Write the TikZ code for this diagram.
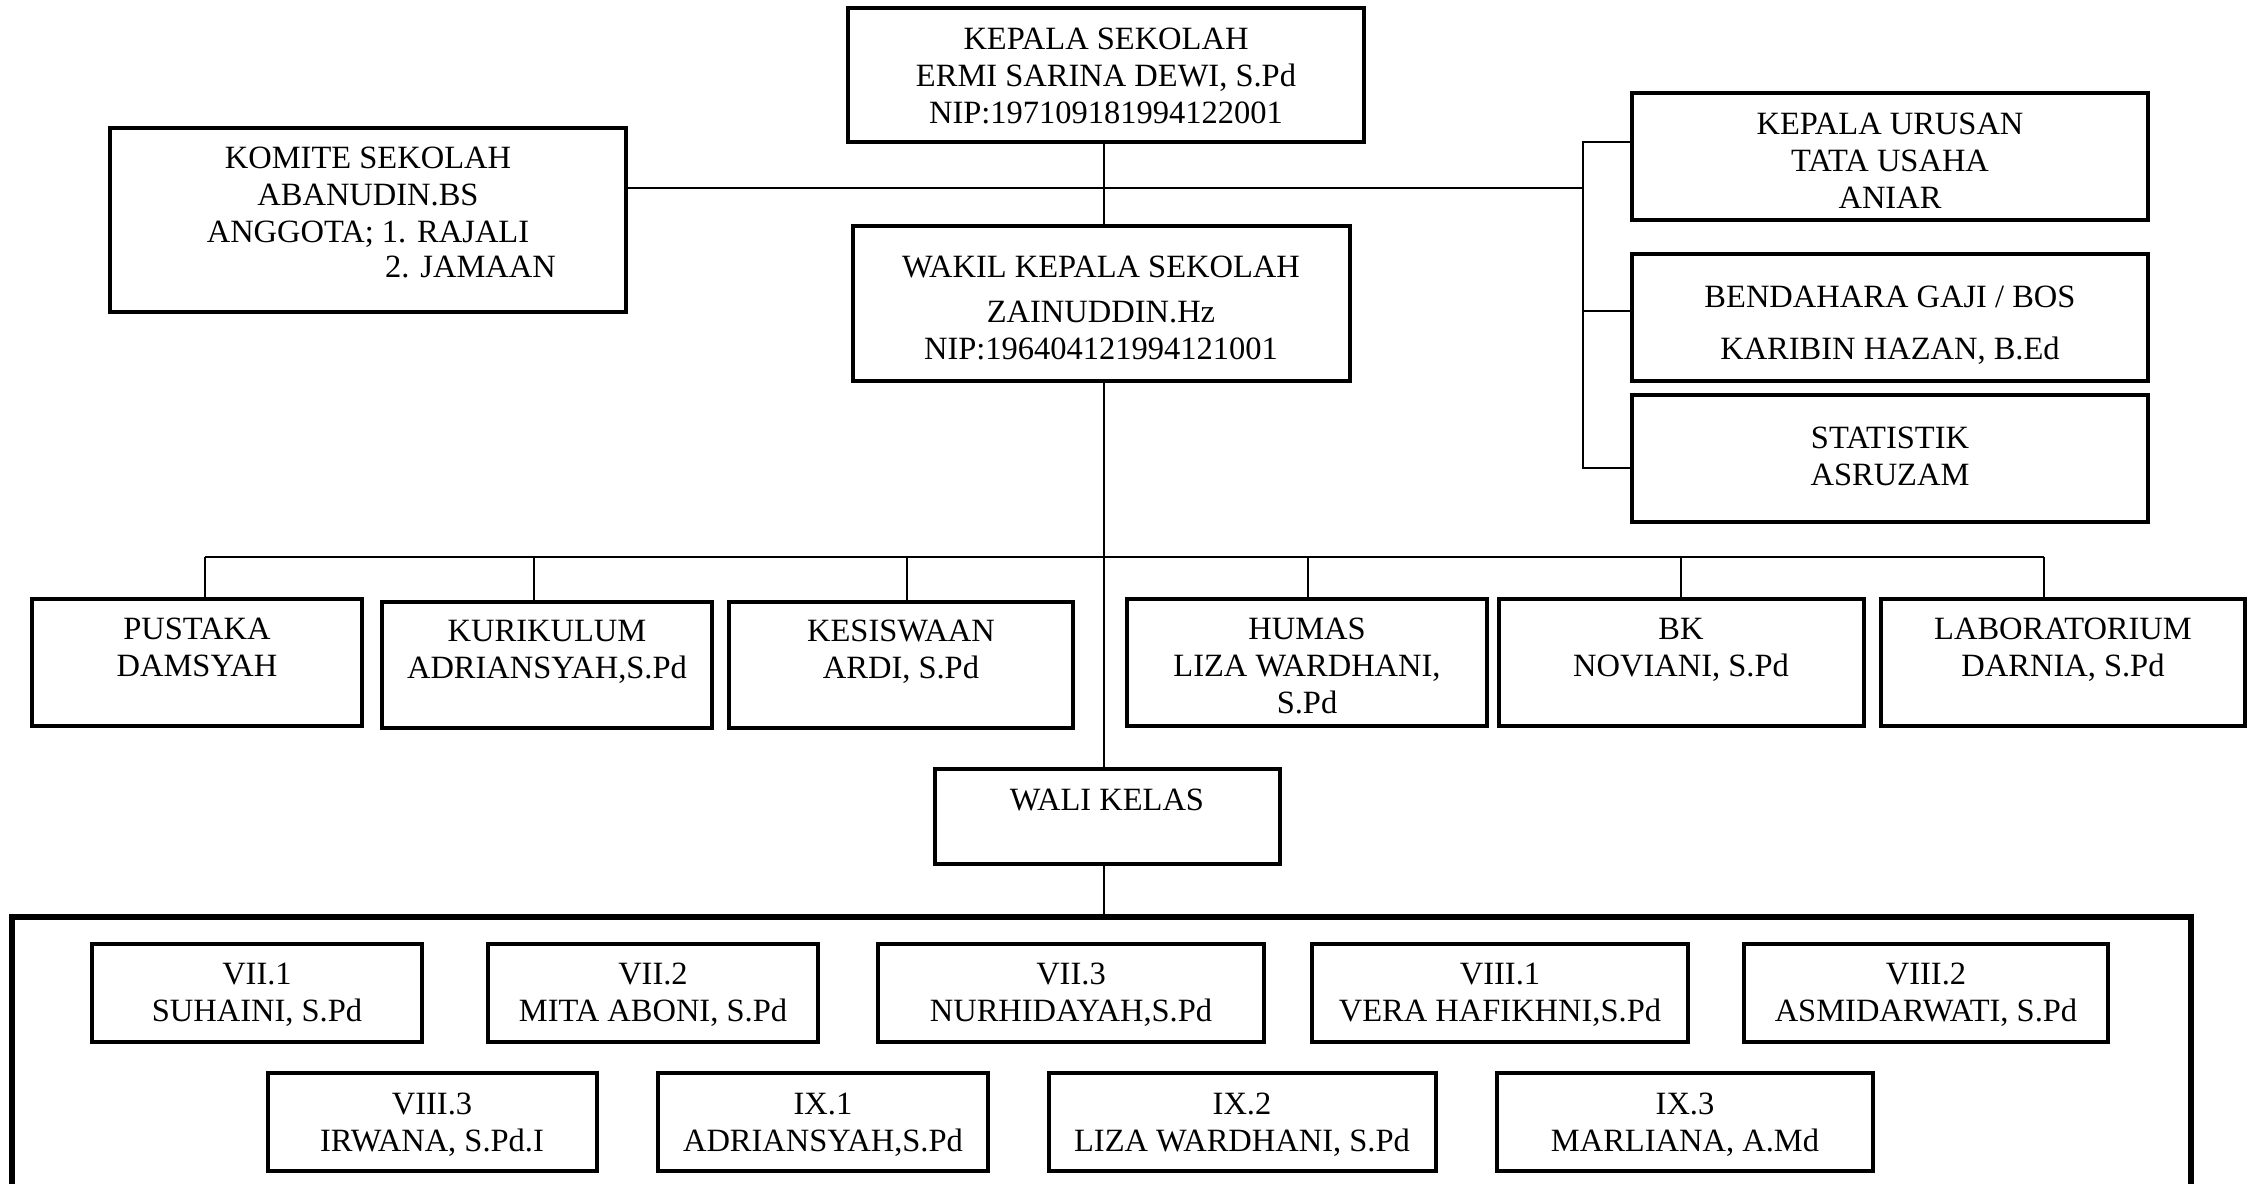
\documentclass[tikz,border=0pt]{standalone}
\usepackage{fontspec}
\setmainfont{Liberation Serif}
\usetikzlibrary{fit}
\newcommand\obox[5]{\node[box, fit={(#2,#3) (#4,#5)}] (#1) {};}
\begin{document}
\begin{tikzpicture}[x=1pt,y=-1pt,
  every node/.style={font=\fontsize{32.5}{37}\selectfont},
  box/.style={draw, line width=4pt, inner sep=0pt},
  txt/.style={inner sep=0pt, align=center, anchor=north},
  conn/.style={line width=2pt},
  frameline/.style={line width=5.5pt}]
\useasboundingbox (0,0) rectangle (2253,1184);

% top boxes
\obox{kep}{848}{8}{1364}{142}
\node[txt] (kept) at (1106,28) {KEPALA SEKOLAH\\ERMI SARINA DEWI, S.Pd\\NIP:197109181994122001};
\obox{kom}{110}{128}{626}{312}
\node[txt] (komt) at (368,147) {KOMITE SEKOLAH\\ABANUDIN.BS\\ANGGOTA; 1. RAJALI};
\node[inner sep=0pt, anchor=north west] (komj) at (385,256) {2. JAMAAN};
\obox{wak}{853}{226}{1350}{381}
\node[txt] (wakt) at (1101,256) {WAKIL KEPALA SEKOLAH\\[8pt]ZAINUDDIN.Hz\\NIP:196404121994121001};
\obox{ku}{1632}{93}{2148}{220}
\node[txt] (kut) at (1890,113) {KEPALA URUSAN\\TATA USAHA\\ANIAR};
\obox{ben}{1632}{254}{2148}{381}
\node[txt] (bent) at (1890,286) {BENDAHARA GAJI / BOS\\[15pt]KARIBIN HAZAN, B.Ed};
\obox{sta}{1632}{395}{2148}{522}
\node[txt] (stat) at (1890,427) {STATISTIK\\ASRUZAM};

% middle row
\obox{pus}{32}{599}{362}{726}
\node[txt] (pust) at (197,618) {PUSTAKA\\DAMSYAH};
\obox{kur}{382}{602}{712}{728}
\node[txt] (kurt) at (547,620) {KURIKULUM\\ADRIANSYAH,S.Pd};
\obox{kes}{729}{602}{1073}{728}
\node[txt] (kest) at (901,620) {KESISWAAN\\ARDI, S.Pd};
\obox{hum}{1127}{599}{1487}{726}
\node[txt] (humt) at (1307,618) {HUMAS\\LIZA WARDHANI,\\S.Pd};
\obox{bk}{1499}{599}{1864}{726}
\node[txt] (bkt) at (1681,618) {BK\\NOVIANI, S.Pd};
\obox{lab}{1881}{599}{2245}{726}
\node[txt] (labt) at (2063,618) {LABORATORIUM\\DARNIA, S.Pd};

% wali kelas
\obox{wali}{935}{769}{1280}{864}
\node[txt] (walit) at (1107,789) {WALI KELAS};

% frame (open at bottom)
\coordinate (fbl) at (12,1184);
\coordinate (ftl) at (12,917);
\coordinate (ftr) at (2191,917);
\coordinate (fbr) at (2191,1184);
\draw[frameline] (fbl) -- (ftl) -- (ftr) -- (fbr);

% classes row 1
\obox{c71}{92}{944}{422}{1042}
\node[txt] (c71t) at (257,963) {VII.1\\SUHAINI, S.Pd};
\obox{c72}{488}{944}{818}{1042}
\node[txt] (c72t) at (653,963) {VII.2\\MITA ABONI, S.Pd};
\obox{c73}{878}{944}{1264}{1042}
\node[txt] (c73t) at (1071,963) {VII.3\\NURHIDAYAH,S.Pd};
\obox{c81}{1312}{944}{1688}{1042}
\node[txt] (c81t) at (1500,963) {VIII.1\\VERA HAFIKHNI,S.Pd};
\obox{c82}{1744}{944}{2108}{1042}
\node[txt] (c82t) at (1926,963) {VIII.2\\ASMIDARWATI, S.Pd};
% classes row 2
\obox{c83}{268}{1073}{597}{1171}
\node[txt] (c83t) at (432,1093) {VIII.3\\IRWANA, S.Pd.I};
\obox{c91}{658}{1073}{988}{1171}
\node[txt] (c91t) at (823,1093) {IX.1\\ADRIANSYAH,S.Pd};
\obox{c92}{1049}{1073}{1436}{1171}
\node[txt] (c92t) at (1242,1093) {IX.2\\LIZA WARDHANI, S.Pd};
\obox{c93}{1497}{1073}{1873}{1171}
\node[txt] (c93t) at (1685,1093) {IX.3\\MARLIANA, A.Md};

% connectors
\coordinate (vx) at (1104,0);
\draw[conn] (kep.south -| vx) -- (wak.north -| vx);
\coordinate (h2) at (1583,188);
\draw[conn] (kom.east |- h2) -- (h2);
\coordinate (b1) at (1583,142);
\coordinate (b2) at (1583,311);
\coordinate (b3) at (1583,468);
\draw[conn] (ku.west |- b1) -- (b1) -- (b3) -- (sta.west |- b3);
\draw[conn] (b2) -- (ben.west |- b2);
\draw[conn] (wak.south -| vx) -- (wali.north -| vx);
\draw[conn] (wali.south -| vx) -- (ftl -| vx);
% bar to middle row
\coordinate (t1) at (205,557);
\coordinate (t2) at (534,557);
\coordinate (t3) at (907,557);
\coordinate (t4) at (1308,557);
\coordinate (t5) at (1681,557);
\coordinate (t6) at (2044,557);
\draw[conn] (t1) -- (t6);
\draw[conn] (t1) -- (t1 |- pus.north);
\draw[conn] (t2) -- (t2 |- kur.north);
\draw[conn] (t3) -- (t3 |- kes.north);
\draw[conn] (t4) -- (t4 |- hum.north);
\draw[conn] (t5) -- (t5 |- bk.north);
\draw[conn] (t6) -- (t6 |- lab.north);
\end{tikzpicture}
\end{document}
